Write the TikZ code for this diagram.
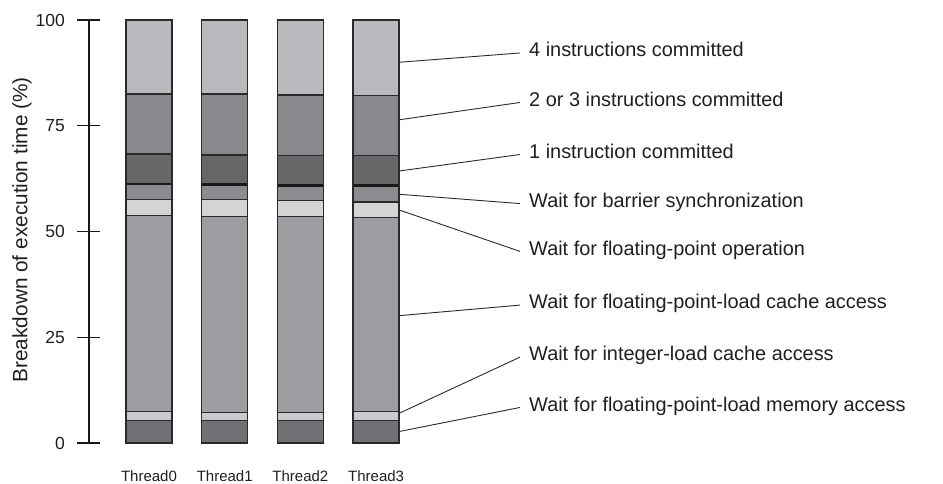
\documentclass[tikz,border=0pt]{standalone}
\usepackage{fontspec}
\setmainfont{Liberation Sans}
\usetikzlibrary{positioning}
\definecolor{cfour}{HTML}{B9BABE}
\definecolor{ctwo}{HTML}{88898D}
\definecolor{cone}{HTML}{666769}
\definecolor{cbarrier}{HTML}{8B8C90}
\definecolor{cfpop}{HTML}{D3D4D6}
\definecolor{cfpcache}{HTML}{9D9EA2}
\definecolor{cintcache}{HTML}{C9CACC}
\definecolor{cfpmem}{HTML}{707175}
\definecolor{cline}{HTML}{2A2A2A}

\begin{document}
\begin{tikzpicture}[
  x=1pt, y=1pt,
  seg/.style={draw=cline, line width=1.3pt},
  leader/.style={draw=cline, line width=0.9pt},
  axisline/.style={draw=black!90, line width=1.1pt},
  lbl/.style={font=\fontsize{19.9}{22}\selectfont, text=black!88,
              anchor=west, inner xsep=9pt, inner ysep=0pt,
              text height=1.38ex, text depth=0pt},
  ticklbl/.style={font=\fontsize{17.5}{20}\selectfont, text=black!88,
                  anchor=east, inner sep=0pt},
  thr/.style={font=\fontsize{15}{18}\selectfont, text=black!88,
              inner sep=0pt, text height=1.38ex, text depth=0pt}
]
\useasboundingbox (0,0) rectangle (943,484);

\begin{scope}[yshift=41pt, y=4.23pt]
% axis
\draw[axisline] (89,0) -- (89,100);
\foreach \v in {0,25,50,75,100} {
  \draw[axisline] (77,\v) -- (100,\v);
  \node[ticklbl] (t\v) at (65,\v) {\v};
}
\node[font=\fontsize{20.8}{24}\selectfont, text=black!88, rotate=90]
  (ylab) at (22,50.4) {Breakdown of execution time (\%)};

% stacked bars
\foreach \i/\name/\a/\b/\c/\d/\e/\f/\g in {
    0/Thread0/5.4/7.4/53.7/57.6/61.2/68.3/82.5,
    1/Thread1/5.3/7.2/53.6/57.5/61.1/68.1/82.5,
    2/Thread2/5.3/7.2/53.6/57.3/60.9/68.0/82.3,
    3/Thread3/5.4/7.5/53.3/57.0/60.9/67.9/82.1} {
  \pgfmathsetmacro\xl{126+\i*75.7}
  \begin{scope}[shift={(\xl,0)}]
    \foreach \lo/\hi/\col in {0/\a/cfpmem, \a/\b/cintcache, \b/\c/cfpcache,
        \c/\d/cfpop, \d/\e/cbarrier, \e/\f/cone, \f/\g/ctwo, \g/100/cfour}
      \filldraw[seg, fill=\col] (0,\lo) rectangle (46,\hi);
    \draw[line width=2.4pt, draw=black!90] (0,\e) -- (46,\e);
    \draw[seg] (0,0) rectangle (46,100);
    \coordinate (b\i) at (23,0);
  \end{scope}
  \node[thr, below=31.5pt of b\i] (n\i) {\name};
}

% leader points on Thread3
\coordinate (p4)   at (399,90.0);
\coordinate (p23)  at (399,76.4);
\coordinate (p1)   at (399,64.3);
\coordinate (pbar) at (399,58.8);
\coordinate (pfp)  at (399,55.1);
\coordinate (pfpc) at (399,30.1);
\coordinate (pint) at (399,7.0);
\coordinate (pmem) at (399,2.7);

\node[lbl] (l4)   at (520,92.2) {4 instructions committed};
\node[lbl] (l23)  at (520,80.5) {2 or 3 instructions committed};
\node[lbl] (l1)   at (520,68.2) {1 instruction committed};
\node[lbl] (lbar) at (520,56.6) {Wait for barrier synchronization};
\node[lbl] (lfp)  at (520,45.3) {Wait for floating-point operation};
\node[lbl] (lfpc) at (520,32.6) {Wait for floating-point-load cache access};
\node[lbl] (lint) at (520,20.3) {Wait for integer-load cache access};
\node[lbl] (lmem) at (520,8.4)  {Wait for floating-point-load memory access};

\draw[leader] (p4)   -- (l4.west);
\draw[leader] (p23)  -- (l23.west);
\draw[leader] (p1)   -- (l1.west);
\draw[leader] (pbar) -- (lbar.west);
\draw[leader] (pfp)  -- (lfp.west);
\draw[leader] (pfpc) -- (lfpc.west);
\draw[leader] (pint) -- (lint.west);
\draw[leader] (pmem) -- (lmem.west);
\end{scope}
\end{tikzpicture}
\end{document}
